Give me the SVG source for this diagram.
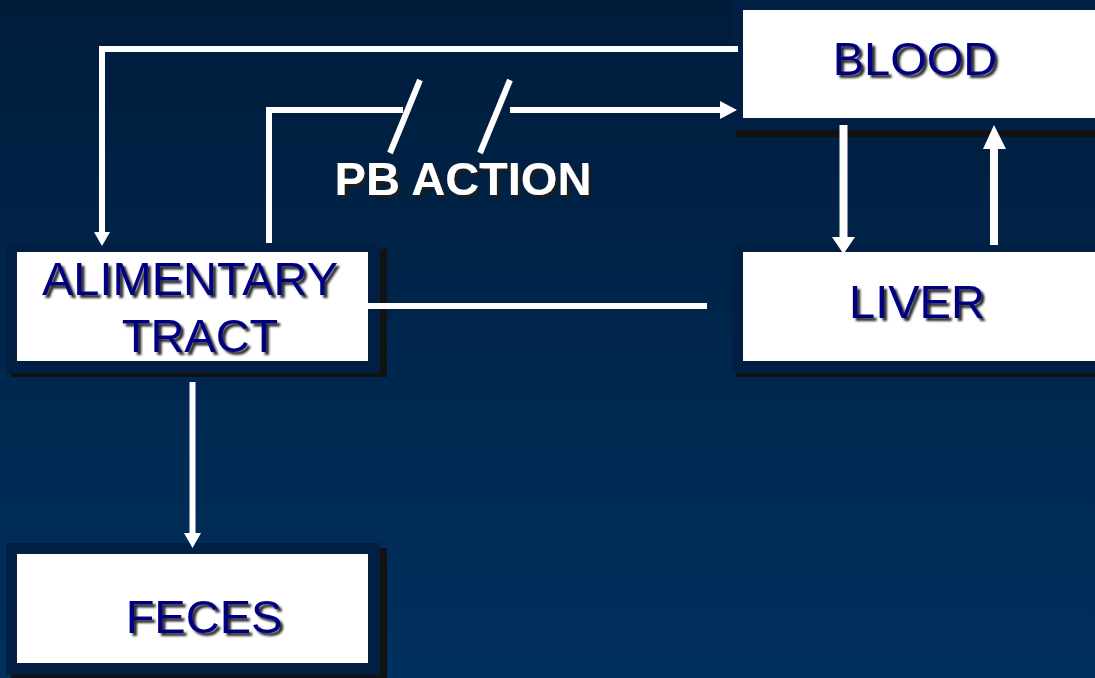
<svg xmlns="http://www.w3.org/2000/svg" width="1095" height="678" viewBox="0 0 1095 678">
<defs>
<linearGradient id="bg" x1="0" y1="0" x2="0" y2="1">
<stop offset="0" stop-color="#001c3b"/>
<stop offset="1" stop-color="#00305e"/>
</linearGradient>
<filter id="sh" x="-10%" y="-20%" width="130%" height="160%">
<feDropShadow dx="3" dy="3" stdDeviation="1.2" flood-color="#1a1a1a" flood-opacity="0.95"/>
</filter>
</defs>
<style>
.frame{fill:#001f42}
.shadow{fill:#121212}
.box{fill:#ffffff}
.lbl{font-family:"Liberation Sans",Arial,sans-serif;font-size:47px;fill:#000080;text-anchor:middle;filter:url(#sh)}
.pb{font-family:"Liberation Sans",Arial,sans-serif;font-size:47px;font-weight:bold;fill:#ffffff;text-anchor:middle;filter:url(#sh)}
.ln{fill:none;stroke:#ffffff;stroke-width:6}
.ah{fill:#ffffff}
</style>
<rect width="1095" height="678" fill="url(#bg)"/>
<g id="blood">
<rect class="shadow" x="736" y="0" width="370" height="137"/>
<rect class="frame" x="732" y="-5" width="370" height="135"/>
<rect class="box" x="743" y="10" width="352" height="108"/>
<text class="lbl" x="915" y="75">BLOOD</text>
</g>
<g id="liver">
<rect class="shadow" x="736" y="248" width="370" height="129"/>
<rect class="frame" x="732" y="244" width="370" height="129"/>
<rect class="box" x="743" y="252" width="352" height="109"/>
<text class="lbl" x="917" y="318">LIVER</text>
</g>
<g id="alimentary">
<rect class="shadow" x="11" y="249" width="376" height="128"/>
<rect class="frame" x="6" y="244" width="374" height="129"/>
<rect class="box" x="17" y="252" width="351" height="109"/>
<text class="lbl" x="190" y="295">ALIMENTARY</text>
<text class="lbl" x="200" y="352">TRACT</text>
</g>
<g id="feces">
<rect class="shadow" x="11" y="548" width="376" height="135"/>
<rect class="frame" x="6" y="543" width="374" height="132"/>
<rect class="box" x="17" y="554" width="351" height="109"/>
<text class="lbl" x="204" y="633">FECES</text>
</g>
<g id="pb-action">
<text class="pb" x="463" y="195">PB ACTION</text>
</g>
<g id="connectors">
<path class="ln" d="M738 49 H102 V233"/>
<polygon class="ah" points="94,232 110,232 102,246"/>
<path class="ln" d="M269 243 V110 H403"/>
<line class="ln" x1="420" y1="80" x2="390" y2="153"/>
<line class="ln" x1="510" y1="80" x2="480" y2="153"/>
<path class="ln" d="M510 110 H721"/>
<polygon class="ah" points="720,101 737,110 720,119"/>
<line class="ln" x1="843.5" y1="125" x2="843.5" y2="238" style="stroke-width:8"/>
<polygon class="ah" points="832,237 855,237 843.5,254"/>
<line class="ln" x1="994" y1="245" x2="994" y2="148" style="stroke-width:8"/>
<polygon class="ah" points="983,149 1006,149 994,125"/>
<path class="ln" d="M368 306 H707"/>
<line class="ln" x1="192.5" y1="382" x2="192.5" y2="534"/>
<polygon class="ah" points="184,533 201,533 192.5,548"/>
</g>
</svg>
